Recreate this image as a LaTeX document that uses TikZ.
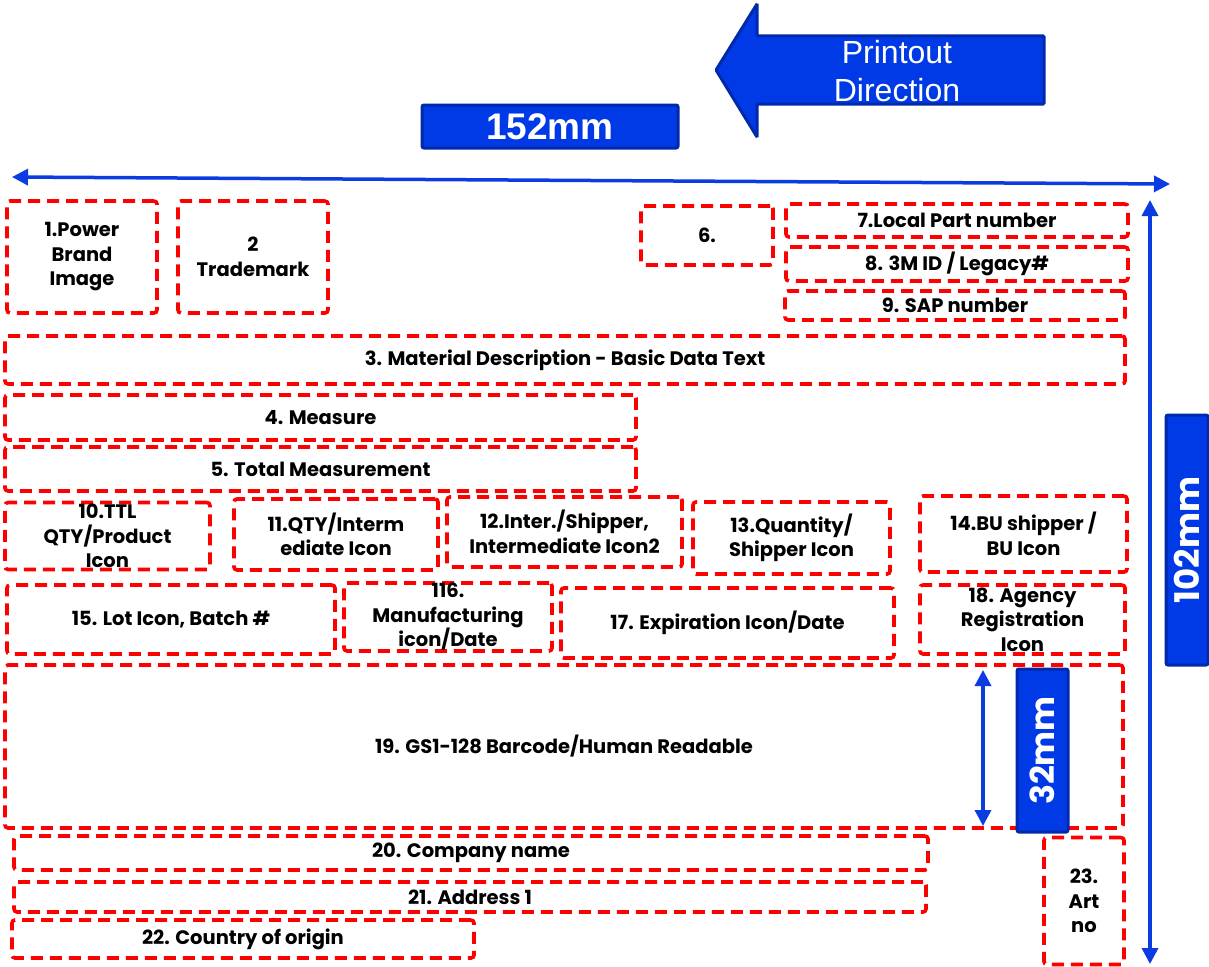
\documentclass[tikz,border=0pt]{standalone}
\usepackage{fontspec}
\setmainfont{Poppins}
\newfontfamily\arialf{Liberation Sans}
\usetikzlibrary{arrows.meta}
\definecolor{bfill}{RGB}{0,58,230}
\definecolor{bdark}{RGB}{0,42,170}
\definecolor{bline}{RGB}{10,60,225}
\definecolor{rdash}{RGB}{255,0,0}
\tikzset{
  box/.style={draw=rdash, line width=3.6pt, dash pattern=on 12pt off 7pt, rounded corners=3pt,
    align=center, inner sep=0pt, font=\fontsize{19.5}{24.5}\selectfont\bfseries},
  bluebox/.style={fill=bfill, draw=bdark, line width=3pt, rounded corners=2pt, text=white, inner sep=0pt},
  dimline/.style={draw=bline, line width=3.5pt, {Triangle[length=16pt,width=16pt]}-{Triangle[length=16pt,width=16pt]}}
}
\begin{document}
\begin{tikzpicture}[x=1pt,y=-1pt]
\useasboundingbox (0,0) rectangle (1209,966);
% big arrow
\draw[fill=bfill, draw=bdark, line width=3pt, rounded corners=1pt]
  (716,70) -- (757,4) -- (757,36) -- (1044,36) -- (1044,104) -- (757,104) -- (757,137) -- cycle;
\node[text=white, align=center, font=\arialf\fontsize{32}{38}\selectfont] (pd) at (897,71) {Printout\\Direction};
\node[bluebox, minimum width=256pt, minimum height=43pt, font=\arialf\fontsize{37}{37}\selectfont\bfseries] (w152) at (550,126.5) {152mm};
% dimension arrows
\coordinate (hl) at (12,177);
\coordinate (hr) at (1170,184);
\draw[dimline] (hl) -- (hr);
\coordinate (vt) at (1150,200);
\coordinate (vb) at (1150,964);
\draw[dimline] (vt) -- (vb);
% boxes
\node[box, minimum width=150pt, minimum height=112pt] (n1) at (82,257) {1.Power\\Brand\\Image};
\node[box, minimum width=150pt, minimum height=112pt] (n2) at (253,257) {2\\Trademark};
\node[box, minimum width=132pt, minimum height=59pt] (n6) at (707,235.5) {6.};
\node[box, minimum width=342pt, minimum height=33pt] (n7) at (957,220.5) {7.Local Part number};
\node[box, minimum width=342pt, minimum height=34pt] (n8) at (957,264) {8. 3M ID / Legacy\#};
\node[box, minimum width=340pt, minimum height=29pt] (n9) at (955,305.5) {9. SAP number};
\node[box, minimum width=1120pt, minimum height=48pt] (n3) at (565,360) {3. Material Description - Basic Data Text};
\node[box, minimum width=631pt, minimum height=45pt] (n4) at (320.5,417.5) {4. Measure};
\node[box, minimum width=631pt, minimum height=44pt] (n5) at (320.5,469) {5. Total Measurement};
\node[box, minimum width=205pt, minimum height=67pt] (n10) at (107.5,536) {10.TTL\\QTY/Product\\Icon};
\node[box, minimum width=204pt, minimum height=71pt] (n11) at (336,534.5) {11.QTY/Interm\\ediate Icon};
\node[box, minimum width=235pt, minimum height=70pt] (n12) at (564.5,532) {12.Inter./Shipper,\\Intermediate Icon2};
\node[box, minimum width=197pt, minimum height=72pt] (n13) at (791.5,538) {13.Quantity/\\Shipper Icon};
\node[box, minimum width=207pt, minimum height=76pt] (n14) at (1023.5,534) {14.BU shipper /\\BU Icon};
\node[box, minimum width=328pt, minimum height=69pt] (n15) at (171,619.5) {15. Lot Icon, Batch \#};
\node[box, minimum width=208pt, minimum height=68pt] (n16) at (448,617) {116.\\Manufacturing\\icon/Date};
\node[box, minimum width=333pt, minimum height=70pt] (n17) at (727.5,623) {17. Expiration Icon/Date};
\node[box, minimum width=205pt, minimum height=69pt] (n18) at (1022.5,619.5) {18. Agency\\Registration\\Icon};
\node[box, minimum width=1118pt, minimum height=163pt] (n19) at (564,746.5) {19. GS1-128 Barcode/Human Readable};
\node[box, minimum width=914pt, minimum height=34pt] (n20) at (471,853) {20. Company name};
\node[box, minimum width=912pt, minimum height=30pt] (n21) at (470,897) {21. Address 1};
\node[box, minimum width=462pt, minimum height=38pt] (n22) at (243,939) {22. Country of origin};
\node[box, minimum width=80pt, minimum height=127pt] (n23) at (1084,901) {23.\\Art\\no};
% 32mm
\coordinate (st) at (983,670);
\coordinate (sb) at (983,826);
\draw[dimline] (st) -- (sb);
\node[bluebox, rotate=90, minimum width=163pt, minimum height=51pt, font=\fontsize{33}{33}\selectfont\bfseries] (m32) at (1042.5,750.5) {32mm};
\node[bluebox, rotate=90, minimum width=250pt, minimum height=42pt, font=\fontsize{34}{34}\selectfont\bfseries] (m102) at (1187,540) {102mm};
\end{tikzpicture}
\end{document}
